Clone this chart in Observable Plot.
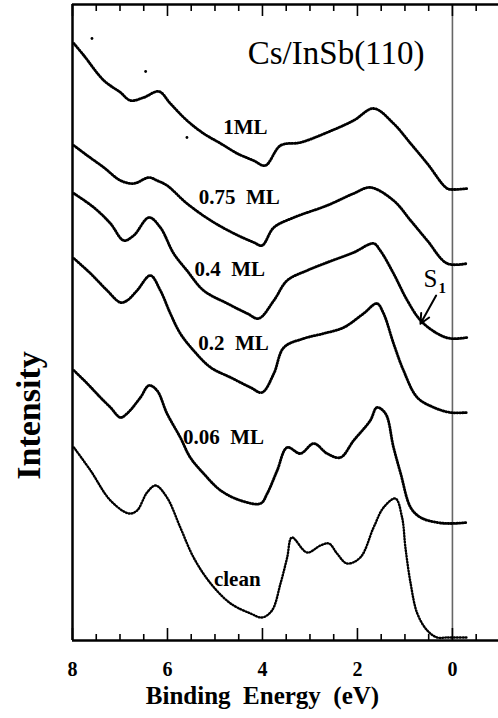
<!DOCTYPE html>
<html><head><meta charset="utf-8">
<script src="https://cdn.jsdelivr.net/npm/d3@7"></script>
<script src="https://cdn.jsdelivr.net/npm/@observablehq/plot@0.6"></script>
<style>body{margin:0;background:#fff}</style>
</head><body><div id="chart"></div>
<script>
// Binding energy (eV) vs stacked intensity (arbitrary units, offset per coverage)
const spectrumNames = ["1ML", "0.75 ML", "0.4 ML", "0.2 ML", "0.06 ML", "clean"];

const spec1ML = [[7.97,597],[7.76,585],[7.34,560],[6.99,548],[6.78,540],[6.50,543],[6.18,549],[5.94,537],[5.59,520],[5.24,507],[4.88,497],[4.53,487],[4.19,480],[3.94,475],[3.62,495],[3.20,498],[2.64,508],[2.08,520],[1.66,532],[1.24,517],[0.88,497],[0.53,477],[0.11,452],[-0.03,451],[-0.31,452]];
const spec075ML = [[7.97,495],[7.69,485],[7.34,473],[6.99,460],[6.71,457],[6.39,463],[6.22,460],[6.01,455],[5.59,437],[5.09,420],[4.60,407],[4.18,398],[4.01,395],[3.76,413],[3.34,423],[2.64,435],[2.08,447],[1.73,453],[1.24,440],[0.88,420],[0.53,400],[0.11,377],[-0.31,377]];
const spec04ML = [[7.97,447],[7.55,433],[7.20,417],[6.92,400],[6.71,405],[6.39,423],[6.15,413],[5.87,387],[5.59,370],[5.24,350],[4.74,337],[4.32,327],[4.08,322],[3.76,340],[3.48,360],[3.06,370],[2.64,378],[2.08,388],[1.66,397],[1.52,390],[1.24,367],[0.95,340],[0.67,320],[0.32,307],[0.04,302],[-0.31,303]];
const spec02ML = [[7.97,382],[7.62,367],[7.27,350],[6.99,338],[6.85,340],[6.64,350],[6.36,365],[6.15,350],[5.94,327],[5.73,307],[5.45,290],[5.09,273],[4.67,263],[4.25,253],[4.01,248],[3.76,267],[3.55,293],[3.13,302],[2.71,307],[2.29,313],[1.87,327],[1.59,337],[1.45,327],[1.24,297],[1.03,270],[0.74,243],[0.39,233],[0.04,228],[-0.31,228]];
const spec006ML = [[7.97,270],[7.69,257],[7.41,243],[7.20,233],[6.99,223],[6.85,227],[6.57,243],[6.39,255],[6.22,250],[6.01,227],[5.73,203],[5.52,183],[5.24,167],[4.88,150],[4.46,140],[4.04,137],[3.90,147],[3.69,170],[3.48,193],[3.20,187],[2.92,197],[2.64,187],[2.36,183],[2.08,200],[1.73,220],[1.59,233],[1.41,227],[1.24,193],[1.09,167],[0.88,133],[0.67,123],[0.32,118],[0.04,117],[-0.31,118]];
const specClean = [[7.97,193],[7.62,170],[7.20,140],[6.81,127],[6.64,130],[6.43,148],[6.25,155],[6.01,143],[5.73,113],[5.45,83],[5.09,57],[4.67,37],[4.25,27],[4.01,23],[3.80,30],[3.62,57],[3.48,83],[3.38,103],[3.06,88],[2.78,95],[2.60,97],[2.43,87],[2.22,77],[1.94,83],[1.66,113],[1.45,133],[1.20,142],[1.06,123],[0.99,93],[0.88,57],[0.74,27],[0.53,10],[0.32,3],[0.11,3],[-0.31,3]];

// stray points of the 1ML scan
const stray1ML = [[7.59,602],[6.46,569],[5.59,503]];

const labelText = ["1ML", "0.75\u00a0\u00a0ML", "0.4\u00a0\u00a0ML", "0.2\u00a0\u00a0ML", "0.06\u00a0\u00a0ML", "clean"];
const labelE = [4.36, 4.49, 4.69, 4.61, 4.82, 4.53];
const labelI = [513, 443, 371, 297, 203, 61];

const tickMajor = [8, 6, 4, 2, 0];
const tickMinor = [7.5, 7, 6.5, 5.5, 5, 4.5, 3.5, 3, 2.5, 1.5, 1, 0.5, -0.5];

const spectra = [spec1ML, spec075ML, spec04ML, spec02ML, spec006ML];
const noisyRows = [];
spectra.forEach((s, k) => s.forEach(([e, v]) => noisyRows.push({name: spectrumNames[k], e, v})));
const cleanRows = specClean.map(([e, v]) => ({name: spectrumNames[5], e, v}));
const strayRows = stray1ML.map(([e, v]) => ({e, v}));
const labels = labelText.map((t, i) => ({t, e: labelE[i], v: labelI[i]}));

const serif = "'Liberation Serif', 'Times New Roman', Times, serif";
const yTop = 636;

const chart = Plot.plot({
  width: 498, height: 718,
  marginLeft: 72, marginRight: 0, marginTop: 4, marginBottom: 78,
  x: {domain: [8, -0.97], axis: null},
  y: {domain: [0, yTop], axis: null},
  style: {background: "white"},
  marks: [
    Plot.ruleX([0], {y1: 0, y2: yTop, stroke: "#666", strokeWidth: 1.6}),
    Plot.line(noisyRows, {x: "e", y: "v", z: "name", curve: "catmull-rom", stroke: "black", strokeWidth: 2.8, strokeDasharray: "0.9,1.9", strokeLinecap: "round"}),
    Plot.line(cleanRows, {x: "e", y: "v", curve: "catmull-rom", stroke: "black", strokeWidth: 2.4, strokeDasharray: "0.8,2.1", strokeLinecap: "round"}),
    Plot.dot(strayRows, {x: "e", y: "v", r: 1.4, fill: "black"}),
    // frame (left, top, bottom)
    Plot.ruleX([8], {y1: 0, y2: yTop, stroke: "black", strokeWidth: 2.5}),
    Plot.ruleY([0, yTop], {stroke: "black", strokeWidth: 2.5}),
    // inward ticks bottom and top
    Plot.ruleX(tickMajor, {y1: 0, y2: 12, stroke: "black", strokeWidth: 1.6}),
    Plot.ruleX(tickMinor, {y1: 0, y2: 6, stroke: "black", strokeWidth: 1.6}),
    Plot.ruleX(tickMajor, {y1: yTop, y2: yTop - 12, stroke: "black", strokeWidth: 1.6}),
    Plot.ruleX(tickMinor, {y1: yTop, y2: yTop - 7, stroke: "black", strokeWidth: 1.6}),
    // tick labels
    Plot.text(tickMajor, {x: d => d, y: -29, text: d => String(d), fontFamily: serif, fontWeight: "bold", fontSize: 20, lineAnchor: "middle", fill: "black"}),
    // axis titles
    Plot.text(["Binding\u00a0\u00a0Energy\u00a0\u00a0(eV)"], {x: 4.0, y: -55, text: d => d, fontFamily: serif, fontWeight: "bold", fontSize: 25, lineAnchor: "middle", fill: "black", letterSpacing: 2}),
    Plot.text(["Intensity"], {x: 8.916, y: 225, text: d => d, rotate: -90, fontFamily: serif, fontWeight: "bold", fontSize: 34, lineAnchor: "middle", fill: "black"}),
    // title
    Plot.text(["Cs/InSb(110)"], {x: 2.45, y: 587, text: d => d, fontFamily: serif, fontSize: 33, lineAnchor: "middle", fill: "black"}),
    // coverage labels
    Plot.text(labels, {x: "e", y: "v", text: "t", fontFamily: serif, fontWeight: "bold", fontSize: 21, lineAnchor: "middle", fill: "black"}),
    // S1 annotation
    Plot.arrow([{x1: 0.343, y1: 345, x2: 0.674, y2: 316.7}], {x1: "x1", y1: "y1", x2: "x2", y2: "y2", stroke: "black", strokeWidth: 2, headLength: 10, headAngle: 50}),
    Plot.text(["S"], {x: 0.463, y: 362, text: d => d, fontFamily: serif, fontSize: 25, lineAnchor: "middle", fill: "black"}),
    Plot.text(["1"], {x: 0.215, y: 352, text: d => d, fontFamily: serif, fontWeight: "bold", fontSize: 15, lineAnchor: "middle", fill: "black"})
  ]
});
document.getElementById("chart").append(chart);
</script>
</body></html>
